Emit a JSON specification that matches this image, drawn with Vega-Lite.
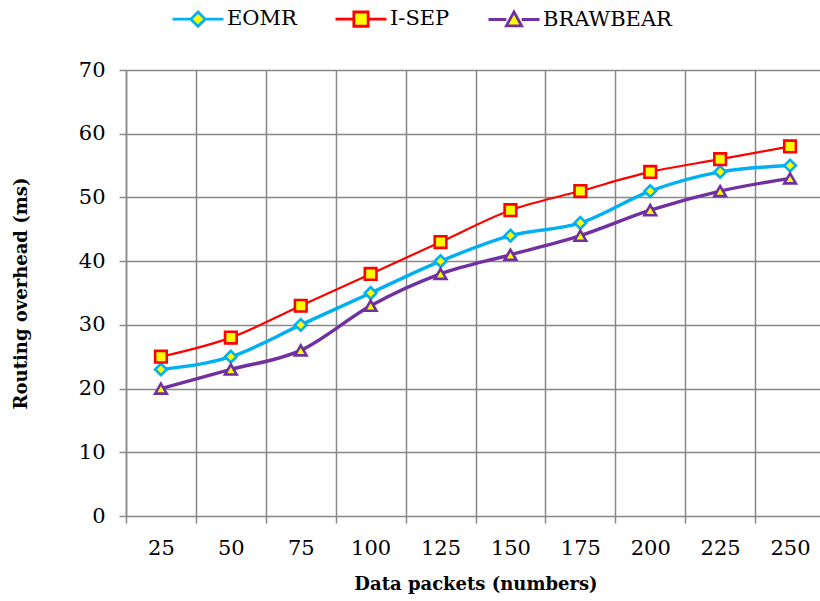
{
  "$schema": "https://vega.github.io/schema/vega-lite/v6.json",
  "width": 699,
  "height": 446,
  "autosize": "none",
  "padding": {"left": 126, "top": 70, "right": 0, "bottom": 85},
  "background": "white",
  "config": {
    "font": "DejaVu Serif",
    "view": {"stroke": null},
    "axis": {"labelFont": "DejaVu Serif", "titleFont": "DejaVu Serif", "labelColor": "black", "titleColor": "black"}
  },
  "data": {
    "values": [
      {"packets": "25", "series": "EOMR", "value": 23},
      {"packets": "50", "series": "EOMR", "value": 25},
      {"packets": "75", "series": "EOMR", "value": 30},
      {"packets": "100", "series": "EOMR", "value": 35},
      {"packets": "125", "series": "EOMR", "value": 40},
      {"packets": "150", "series": "EOMR", "value": 44},
      {"packets": "175", "series": "EOMR", "value": 46},
      {"packets": "200", "series": "EOMR", "value": 51},
      {"packets": "225", "series": "EOMR", "value": 54},
      {"packets": "250", "series": "EOMR", "value": 55},
      {"packets": "25", "series": "I-SEP", "value": 25},
      {"packets": "50", "series": "I-SEP", "value": 28},
      {"packets": "75", "series": "I-SEP", "value": 33},
      {"packets": "100", "series": "I-SEP", "value": 38},
      {"packets": "125", "series": "I-SEP", "value": 43},
      {"packets": "150", "series": "I-SEP", "value": 48},
      {"packets": "175", "series": "I-SEP", "value": 51},
      {"packets": "200", "series": "I-SEP", "value": 54},
      {"packets": "225", "series": "I-SEP", "value": 56},
      {"packets": "250", "series": "I-SEP", "value": 58},
      {"packets": "25", "series": "BRAWBEAR", "value": 20},
      {"packets": "50", "series": "BRAWBEAR", "value": 23},
      {"packets": "75", "series": "BRAWBEAR", "value": 26},
      {"packets": "100", "series": "BRAWBEAR", "value": 33},
      {"packets": "125", "series": "BRAWBEAR", "value": 38},
      {"packets": "150", "series": "BRAWBEAR", "value": 41},
      {"packets": "175", "series": "BRAWBEAR", "value": 44},
      {"packets": "200", "series": "BRAWBEAR", "value": 48},
      {"packets": "225", "series": "BRAWBEAR", "value": 51},
      {"packets": "250", "series": "BRAWBEAR", "value": 53}
    ]
  },
  "encoding": {
    "x": {
      "field": "packets", "type": "ordinal", "sort": null,
      "scale": {"type": "band", "paddingInner": 0, "paddingOuter": 0},
      "axis": {
        "title": "Data packets (numbers)", "titleFontSize": 18, "titleFontWeight": "bold", "titlePadding": 17,
        "labelAngle": 0, "labelFontSize": 21, "labelPadding": 14,
        "tickBand": "extent", "tickSize": 7, "tickColor": "#888888", "tickWidth": 1.5,
        "grid": true, "gridColor": "#888888", "gridWidth": 1.5,
        "domain": false
      }
    },
    "y": {
      "field": "value", "type": "quantitative",
      "scale": {"domain": [0, 70]},
      "axis": {
        "title": "Routing overhead (ms)", "titleFontSize": 18, "titleFontWeight": "bold", "titlePadding": 48,
        "values": [0, 10, 20, 30, 40, 50, 60, 70],
        "labelFontSize": 21, "labelPadding": 14,
        "tickSize": 7, "tickColor": "#888888", "tickWidth": 1.5,
        "grid": true, "gridColor": "#888888", "gridWidth": 1.5,
        "domain": true, "domainColor": "#888888", "domainWidth": 1.5
      }
    }
  },
  "layer": [
    {
      "mark": {"type": "line", "interpolate": "monotone"},
      "encoding": {
        "stroke": {"field": "series", "type": "nominal", "sort": ["EOMR", "I-SEP", "BRAWBEAR"],
          "scale": {"domain": ["EOMR", "I-SEP", "BRAWBEAR"], "range": ["#00B0F0", "#FF0000", "#7030A0"]}, "legend": null},
        "strokeWidth": {"field": "series", "type": "nominal",
          "scale": {"type": "ordinal", "domain": ["EOMR", "I-SEP", "BRAWBEAR"], "range": [3.4, 2.2, 3.4]}, "legend": null}
      }
    },
    {
      "mark": {"type": "point", "filled": false, "fill": "#FFFF00", "fillOpacity": 1, "opacity": 1, "strokeWidth": 2.6, "size": 135},
      "encoding": {
        "stroke": {"field": "series", "type": "nominal",
          "scale": {"domain": ["EOMR", "I-SEP", "BRAWBEAR"], "range": ["#00B0F0", "#FF0000", "#7030A0"]}, "legend": null},
        "shape": {"field": "series", "type": "nominal",
          "scale": {"domain": ["EOMR", "I-SEP", "BRAWBEAR"], "range": ["diamond", "square", "triangle-up"]}, "legend": null}
      }
    },
    {
      "mark": {"type": "point", "filled": false, "fill": "#FFFF00", "fillOpacity": 1, "strokeWidth": 2.5, "size": 0},
      "encoding": {
        "stroke": {"field": "series", "type": "nominal",
          "scale": {"domain": ["EOMR", "I-SEP", "BRAWBEAR"], "range": ["#00B0F0", "#FF0000", "#7030A0"]},
          "legend": {"title": null}},
        "shape": {"field": "series", "type": "nominal",
          "scale": {"domain": ["EOMR", "I-SEP", "BRAWBEAR"], "range": [
            "M-1,0H-0.3M0.3,0H1M0,-0.28L0.28,0L0,0.28L-0.28,0Z",
            "M-1,0H-0.3M0.3,0H1M-0.28,-0.28H0.28V0.28H-0.28Z",
            "M-1,0H-0.3M0.3,0H1M0,-0.3L0.3,0.25H-0.3Z"
          ]},
          "legend": {
            "title": null, "orient": "none", "direction": "horizontal", "legendX": 45, "legendY": -78,
            "labelFont": "DejaVu Serif", "labelFontSize": 21, "labelColor": "black", "labelOffset": 2,
            "symbolSize": 2600, "symbolFillColor": "#FFFF00", "symbolStrokeWidth": 2.8, "symbolOpacity": 1,
            "columnPadding": 32
          }
        }
      }
    }
  ],
  "resolve": {"scale": {"shape": "independent", "stroke": "independent", "strokeWidth": "independent"}}
}
